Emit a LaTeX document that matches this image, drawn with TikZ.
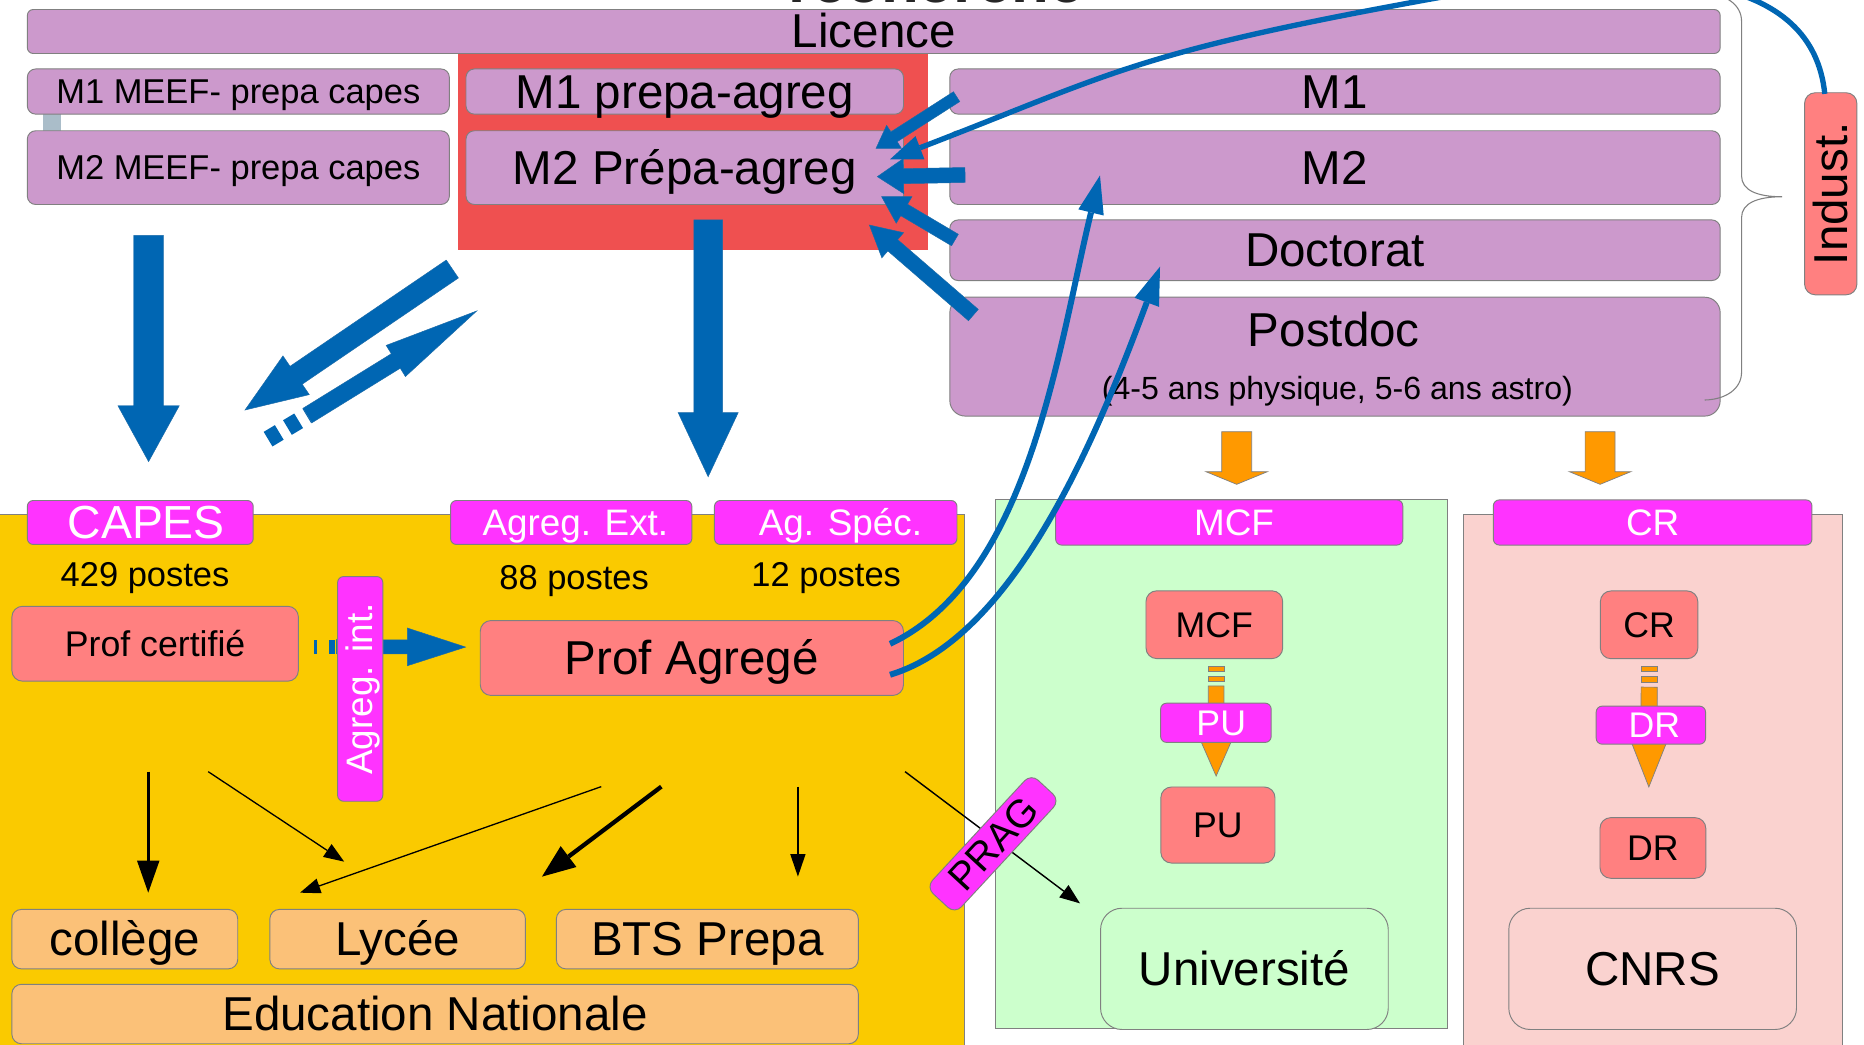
\documentclass[tikz,border=0pt]{standalone}
\usepackage{fontspec}
\setmainfont{Liberation Sans}
\usetikzlibrary{calc,arrows.meta}
\definecolor{purp}{RGB}{204,153,204}
\definecolor{redbg}{RGB}{239,80,80}
\definecolor{sal}{RGB}{255,128,128}
\definecolor{mag}{RGB}{255,51,255}
\definecolor{yel}{RGB}{250,202,0}
\definecolor{grn}{RGB}{204,255,204}
\definecolor{pnk}{RGB}{250,210,207}
\definecolor{peach}{RGB}{251,193,120}
\definecolor{blu}{RGB}{0,102,179}
\definecolor{org}{RGB}{255,153,0}
\definecolor{bgray}{RGB}{128,128,128}
\definecolor{steel}{RGB}{170,189,201}
\newcommand\fsz[1]{\fontsize{#1}{#1}\selectfont}
\newcommand\tx[2]{{\fsz{#1}\smash{#2}\rule{0pt}{0.693em}}}
% block arrow: style, start, end, half shaft width, half head width, head length
\newcommand\blkarrow[6]{%
  \coordinate (bahead) at ($#3!#6!#2$);
  \path[#1] ($#2!#4!90:#3$) -- ($(bahead)!#4!90:#3$) -- ($(bahead)!#5!90:#3$) -- #3
    -- ($(bahead)!#5!-90:#3$) -- ($(bahead)!#4!-90:#3$) -- ($#2!#4!-90:#3$) -- cycle;}
\begin{document}
\begin{tikzpicture}[x=1pt,y=-1pt,
  sz/.style 2 args={minimum width=#1pt, minimum height=#2pt},
  bx/.style={draw=bgray, line width=0.8pt, inner sep=0pt, rounded corners=7pt},
  purpbox/.style={bx, fill=purp},
  salbox/.style={bx, fill=sal, rounded corners=9pt},
  magbox/.style={bx, fill=mag, text=white, rounded corners=5pt},
  peachbox/.style={bx, fill=peach, rounded corners=8pt},
  regionbox/.style={draw=bgray, line width=0.8pt},
  blk/.style={fill=blu, draw=blu!80!bgray, line width=0.4pt},
  orng/.style={fill=org, draw=bgray, line width=0.6pt},
  bluecurve/.style={draw=blu, line width=5pt, -{Triangle[length=32pt,width=22pt,line width=0pt]}},
  karrow/.style n args={3}{draw=black, line width=#1pt, -{Triangle[length=#2pt,width=#3pt,line width=0pt]}},
  txt/.style={inner sep=0pt}]
\useasboundingbox (0,0) rectangle (1568,879);
\fill[white] (0,0) rectangle (1568,879);
\node[anchor=base, font=\bfseries\fsz{52}, text=black!85] (rech) at (787.5,1.7) {recherche};

% upper block
\node[fill=redbg, inner sep=0pt, sz={396}{165}] (redreg) at (583,127.5) {};
\node[purpbox, rounded corners=5pt, sz={1424}{37}] (lic) at (735,26.5) {\tx{40}{Licence}};
\node[fill=steel, inner sep=0pt, sz={15}{14}] (conn) at (43.5,103) {};
\node[purpbox, sz={355}{38}] (m1meef) at (200.5,77) {\tx{29}{M1 MEEF- prepa capes}};
\node[purpbox, sz={355}{62}] (m2meef) at (200.5,141) {\tx{29}{M2 MEEF- prepa capes}};
\node[purpbox, sz={368}{38}] (m1agr) at (576,77) {\tx{40}{M1 prepa-agreg}};
\node[purpbox, sz={368}{62}] (m2agr) at (576,141) {\tx{40}{M2 Prépa-agreg}};
\node[purpbox, sz={648}{38}] (m1) at (1123,77) {\tx{40}{M1}};
\node[purpbox, sz={648}{62}] (m2) at (1123,141) {\tx{40}{M2}\hspace{12pt}};
\node[purpbox, sz={648}{51}] (doct) at (1123,210.5) {\tx{40}{Doctorat}};
\node[purpbox, rounded corners=13pt, sz={648}{100}] (postdoc) at (1123,300) {};
\node[txt] (postdoclbl) at (1122,278) {\tx{40}{Postdoc}};
\node[txt] (postdocsub) at (1125,327) {\tx{27}{(4-5 ans physique, 5-6 ans astro)}};

% arrows into M2 Prepa-agreg
\coordinate (a1s) at (804.7,81.3);  \coordinate (a1e) at (736.9,124.8);
\coordinate (a3s) at (811.8,147.2); \coordinate (a3e) at (738,148.6);
\coordinate (a4s) at (803.3,201.9); \coordinate (a4e) at (741.6,165.4);
\coordinate (a5s) at (818.8,265);   \coordinate (a5e) at (731.3,189.3);
\blkarrow{blk}{(a1s)}{(a1e)}{4.9pt}{11.5pt}{18pt}
\blkarrow{blk}{(a3s)}{(a3e)}{6.3pt}{14.7pt}{22pt}
\blkarrow{blk}{(a4s)}{(a4e)}{5.6pt}{13pt}{22pt}
\blkarrow{blk}{(a5s)}{(a5e)}{6.3pt}{14pt}{26pt}

% brace and Indust.
\draw[bgray, line width=0.9pt] (1434,-5.5) .. controls (1452,-5) and (1465,4) .. (1465,18) -- (1465,148)
  .. controls (1465,160) and (1478,165.5) .. (1499,165.5) .. controls (1478,165.5) and (1465,171) .. (1465,183)
  -- (1465,313) .. controls (1465,327) and (1452,336) .. (1434,336.5);
\node[salbox, rotate=90, sz={170}{44}] (indust) at (1540,163) {\tx{40}{Indust.}};

% big blue arrows
\coordinate (b1s) at (125,198);     \coordinate (b1e) at (125,388.3);
\coordinate (b2s) at (595.7,185);   \coordinate (b2e) at (595.7,401);
\coordinate (b3s) at (380.5,226.3); \coordinate (b3e) at (206.1,344.9);
\coordinate (b4d) at (225.5,369.4); \coordinate (b4s) at (258.7,349.5); \coordinate (b4e) at (401,261.6);
\blkarrow{blk}{(b1s)}{(b1e)}{12.5pt}{25.8pt}{47pt}
\blkarrow{blk}{(b2s)}{(b2e)}{12.1pt}{25.3pt}{54pt}
\blkarrow{blk}{(b3s)}{(b3e)}{9.1pt}{19.7pt}{52pt}
\draw[blu, line width=14.3pt, dash pattern=on 11pt off 8pt] (b4d) -- (b4s);
\blkarrow{blk}{(b4s)}{(b4e)}{7.15pt}{15.4pt}{80pt}

% regions
\filldraw[regionbox, fill=yel] (-2,433) rectangle (811,890);
\filldraw[regionbox, fill=grn] (837,420) rectangle (1218,865);
\filldraw[regionbox, fill=pnk] (1231,433) rectangle (1550,890);

% orange arrows
\coordinate (o1s) at (1040.3,363.1); \coordinate (o1e) at (1040.3,407.4);
\coordinate (o2s) at (1346,363.1);   \coordinate (o2e) at (1346,407.4);
\blkarrow{orng}{(o1s)}{(o1e)}{12.6pt}{25.8pt}{10.6pt}
\blkarrow{orng}{(o2s)}{(o2e)}{12.6pt}{25.8pt}{10.6pt}

% Education nationale
\node[magbox, sz={190}{37}] (capes) at (118,439.5) {\hspace{10pt}\tx{39}{CAPES}};
\node[txt] (capesn) at (122,483) {\tx{29}{429 postes}};
\node[magbox, sz={203}{37}] (agext) at (480.5,439.5) {\hspace{7pt}\tx{31}{Agreg. Ext.}};
\node[txt] (agextn) at (483,486) {\tx{29}{88 postes}};
\node[magbox, sz={204}{37}] (agspec) at (703,439.5) {\hspace{8pt}\tx{31}{Ag. Spéc.}};
\node[txt] (agspecn) at (695,483) {\tx{29}{12 postes}};
\node[salbox, sz={241}{63}] (profcert) at (130.5,541.5) {\tx{30}{Prof certifié}\hspace{7pt}};
\node[salbox, sz={356}{63}] (profagr) at (582,553.5) {\tx{40}{Prof Agregé}};
\node[peachbox, sz={190}{50}] (college) at (105,790) {\tx{40}{collège}};
\node[peachbox, sz={215}{50}] (lycee) at (334.5,790) {\tx{40}{Lycée}};
\node[peachbox, sz={254}{50}] (bts) at (595,790) {\tx{40}{BTS Prepa}};
\node[peachbox, sz={712}{50}] (edunat) at (366,853) {\tx{40}{Education Nationale}\hspace{12pt}};

% black arrows
\coordinate (k1s) at (124.7,649.1); \coordinate (k1e) at (124.7,750.9);
\coordinate (k2s) at (175.1,649.1); \coordinate (k2e) at (289.5,724.8);
\coordinate (k3s) at (505.8,661.7); \coordinate (k3e) at (252.4,750.9);
\coordinate (k4s) at (556.3,661.7); \coordinate (k4e) at (455.9,737.4);
\coordinate (k5s) at (671.2,661.7); \coordinate (k5e) at (671.2,737.4);
\coordinate (k6s) at (761.3,649.1); \coordinate (k6e) at (908.5,759.9);
\draw[karrow={2.6}{27}{19}] (k1s) -- (k1e);
\draw[karrow={1.1}{17}{13}] (k2s) -- (k2e);
\draw[karrow={1.1}{17}{13}] (k3s) -- (k3e);
\draw[karrow={3.6}{28}{22}] (k4s) -- (k4e);
\draw[karrow={1.5}{19}{13}] (k5s) -- (k5e);
\draw[karrow={1.2}{17}{13}] (k6s) -- (k6e);

% certifie -> agrege
\fill[blu] (264.1,538) rectangle (266.9,550);
\fill[blu] (277,538) rectangle (281.8,550);
\coordinate (pcs) at (283,544); \coordinate (pce) at (391.7,544.3);
\blkarrow{blk}{(pcs)}{(pce)}{5.9pt}{15.85pt}{49pt}
\node[magbox, rotate=90, sz={189}{38}] (agint) at (303,579.5) {\tx{31}{Agreg. int.}};

% Universite
\node[magbox, sz={292}{38}] (mcfbar) at (1034,439.5) {\hspace{8pt}\tx{31}{MCF}};
\node[salbox, sz={115}{57}] (mcf) at (1021.5,525.5) {\tx{30}{MCF}};
\filldraw[orng] (1016.4,560.2) rectangle (1029.6,564.5);
\filldraw[orng] (1016.4,568.7) rectangle (1029.6,572.9);
\coordinate (o3s) at (1023,577); \coordinate (o3e) at (1023,652.8);
\blkarrow{orng}{(o3s)}{(o3e)}{6.6pt}{13.5pt}{30.8pt}
\node[magbox, sz={93}{33}] (pubar) at (1022.8,608) {\hspace{9pt}\tx{30}{PU}};
\node[salbox, sz={96}{64}] (pu) at (1024.5,694) {\tx{30}{PU}};
\node[bx, fill=grn, rounded corners=18pt, sz={242}{102}] (univ) at (1046.8,815) {\tx{40}{Université}};

% CNRS
\node[magbox, sz={268}{38}] (crbar) at (1390.2,439.5) {\tx{31}{CR}};
\node[salbox, sz={82}{57}] (cr) at (1387.2,525.6) {\tx{30}{CR}};
\filldraw[orng] (1380.4,560.5) rectangle (1394.1,564.5);
\filldraw[orng] (1380.4,569) rectangle (1394.1,573.7);
\coordinate (o4s) at (1387.3,578); \coordinate (o4e) at (1387,662);
\blkarrow{orng}{(o4s)}{(o4e)}{6.8pt}{15pt}{38pt}
\node[magbox, sz={92}{32}] (drbar) at (1388.7,610) {\hspace{6pt}\tx{30}{DR}};
\node[salbox, sz={89}{51}] (dr) at (1390.4,713.3) {\tx{30}{DR}};
\node[bx, fill=pnk, rounded corners=18pt, sz={242}{102}] (cnrs) at (1390.2,815) {\tx{40}{CNRS}};

% PRAG
\node[magbox, text=black, rotate=47.2, rounded corners=8pt, sz={130}{33}] (prag) at (835.3,709.8) {\tx{33}{PRAG}};

% blue curves
\coordinate (c1s) at (748.7,541.6); \coordinate (c1e) at (925.3,147.6);
\coordinate (c2s) at (748.7,567.6); \coordinate (c2e) at (975.8,224.3);
\draw[bluecurve] (c1s) .. controls (866.2,486) and (889.9,293.4) .. (c1e);
\draw[bluecurve] (c2s) .. controls (854.1,535.9) and (923.6,365) .. (c2e);
\coordinate (c3s) at (1535,79); \coordinate (c3m) at (1199,0); \coordinate (c3e) at (748.7,134);
\draw[draw=blu, line width=4.5pt, -{Triangle[length=27pt,width=21pt,line width=0pt]}]
  (c3s) .. controls (1525,-20) and (1400.7,-36.7) .. (c3m) .. controls (953,44.75) and (935.3,62.2) .. (c3e);
\end{tikzpicture}
\end{document}
